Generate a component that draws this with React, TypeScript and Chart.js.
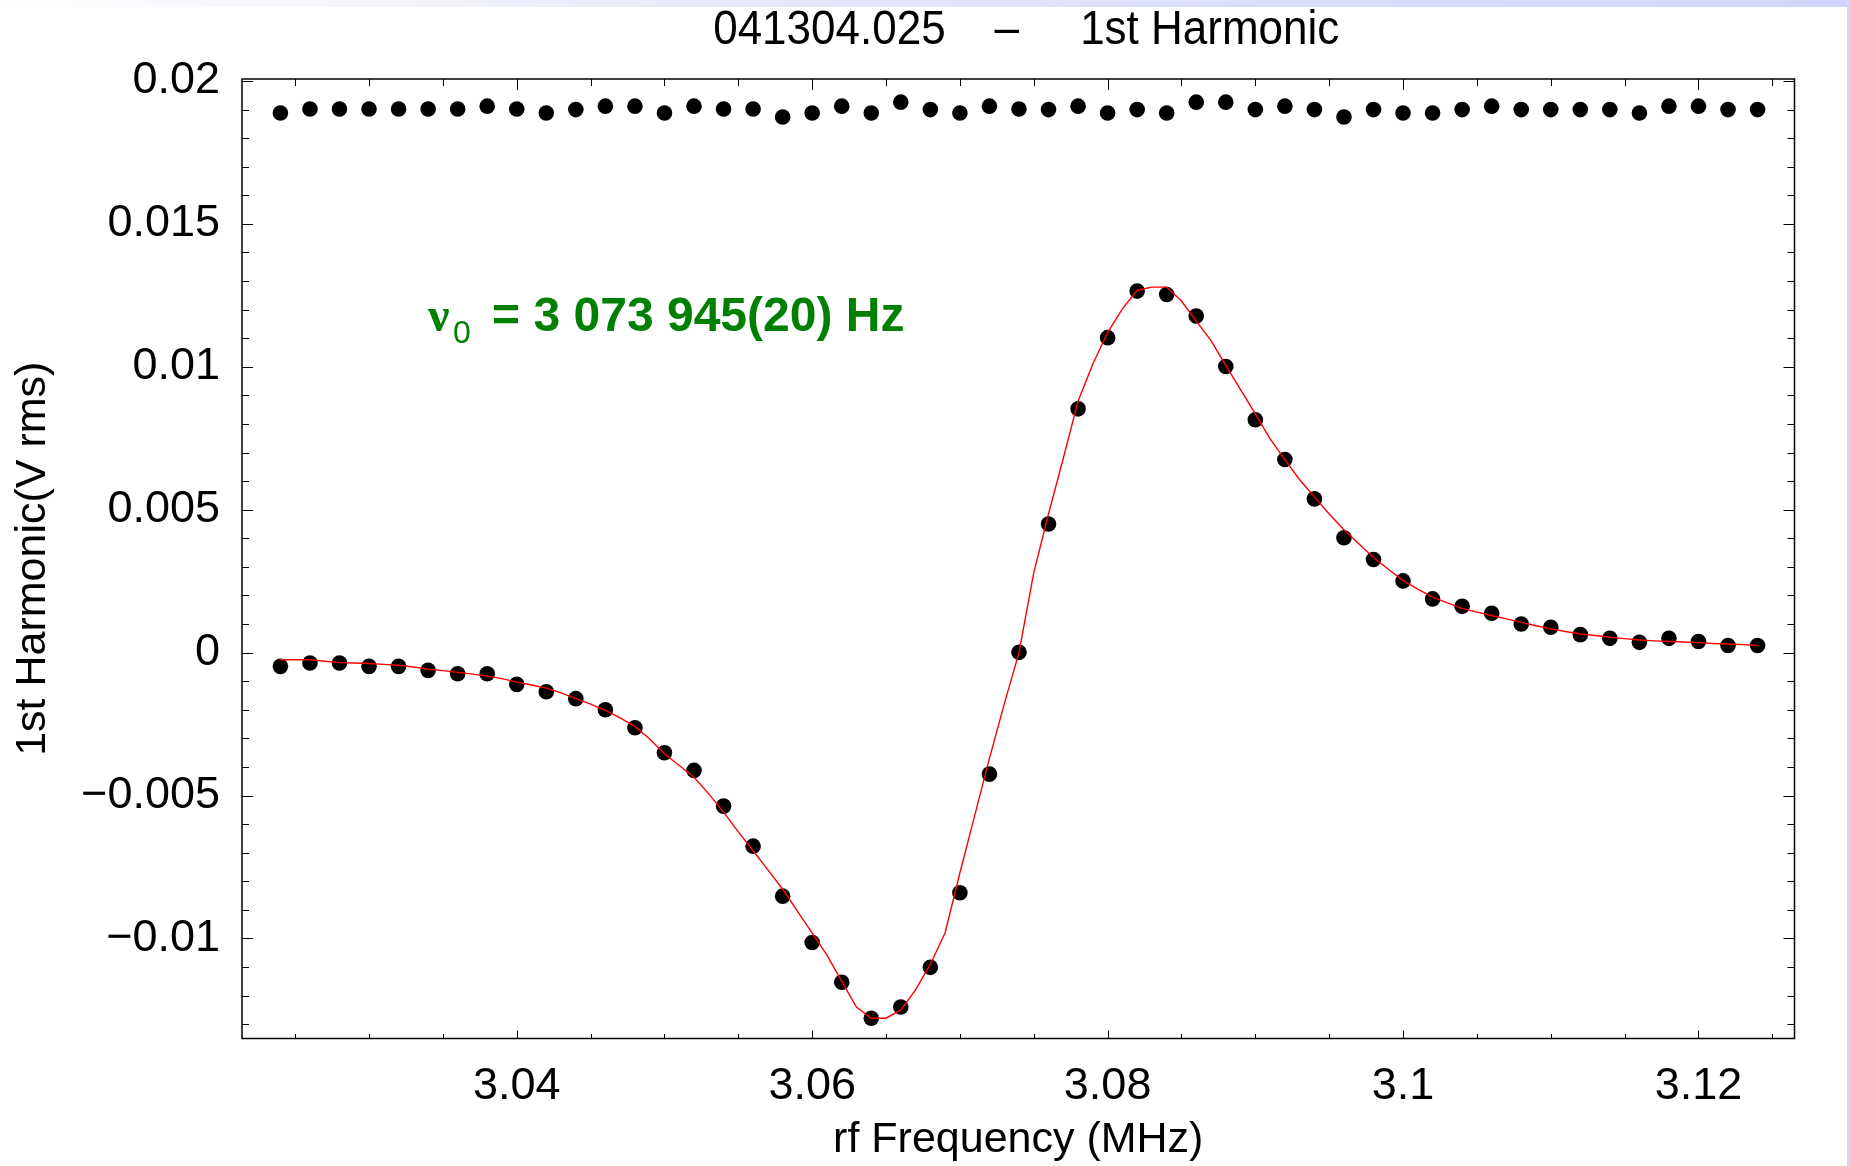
import React, { useEffect, useRef } from "react";
import { Chart, registerables } from "chart.js";

Chart.register(...registerables);

// ---- data ----
const freqValues = [
  3.024, 3.026, 3.028, 3.03, 3.032, 3.034, 3.036, 3.038, 3.04, 3.042,
  3.044, 3.046, 3.048, 3.05, 3.052, 3.054, 3.056, 3.058, 3.06, 3.062,
  3.064, 3.066, 3.068, 3.07, 3.072, 3.074, 3.076, 3.078, 3.08, 3.082,
  3.084, 3.086, 3.088, 3.09, 3.092, 3.094, 3.096, 3.098, 3.1, 3.102,
  3.104, 3.106, 3.108, 3.11, 3.112, 3.114, 3.116, 3.118, 3.12, 3.122, 3.124,
];

const harmonicValues = [
  -0.00048, -0.00036, -0.00036, -0.00048, -0.00048, -0.00062, -0.00074, -0.00074, -0.00111, -0.00137,
  -0.00161, -0.002, -0.00263, -0.0035, -0.00412, -0.00537, -0.00677, -0.00852, -0.01014, -0.01153,
  -0.01279, -0.0124, -0.01101, -0.0084, -0.00425, 0.00001, 0.0045, 0.00853, 0.01102, 0.01265,
  0.01253, 0.01178, 0.01001, 0.00815, 0.00676, 0.00538, 0.00402, 0.00326, 0.00251, 0.00188,
  0.00162, 0.00138, 0.001, 0.00089, 0.00063, 0.0005, 0.00036, 0.0005, 0.00039, 0.00025, 0.00025,
];

const referenceValues = [
  0.01888, 0.01902, 0.01902, 0.01902, 0.01902, 0.01902, 0.01902, 0.01912, 0.01902, 0.01888,
  0.019, 0.01912, 0.01912, 0.01888, 0.01912, 0.01902, 0.01902, 0.01874, 0.01888, 0.01912,
  0.01888, 0.01926, 0.019, 0.01888, 0.01912, 0.01902, 0.019, 0.01912, 0.01888, 0.019,
  0.01888, 0.01926, 0.01926, 0.019, 0.01912, 0.019, 0.01874, 0.019, 0.01888, 0.01888,
  0.019, 0.01912, 0.019, 0.019, 0.019, 0.019, 0.01888, 0.01912, 0.01912, 0.019, 0.019,
];

const fitFreq = [
  3.024, 3.025, 3.026, 3.027, 3.028, 3.029, 3.03, 3.031, 3.032, 3.033,
  3.034, 3.035, 3.036, 3.037, 3.038, 3.039, 3.04, 3.041, 3.042, 3.043,
  3.044, 3.045, 3.046, 3.047, 3.048, 3.049, 3.05, 3.051, 3.052, 3.053,
  3.054, 3.055, 3.056, 3.057, 3.058, 3.059, 3.06, 3.061, 3.062, 3.063,
  3.064, 3.065, 3.066, 3.067, 3.068, 3.069, 3.07, 3.071, 3.072, 3.073,
  3.074, 3.075, 3.076, 3.077, 3.078, 3.079, 3.08, 3.081, 3.082, 3.083,
  3.084, 3.085, 3.086, 3.087, 3.088, 3.089, 3.09, 3.091, 3.092, 3.093,
  3.094, 3.095, 3.096, 3.097, 3.098, 3.099, 3.1, 3.101, 3.102, 3.103,
  3.104, 3.105, 3.106, 3.107, 3.108, 3.109, 3.11, 3.111, 3.112, 3.113,
  3.114, 3.115, 3.116, 3.117, 3.118, 3.119, 3.12, 3.121, 3.122, 3.123, 3.124,
];

const fitValues = [
  -0.00025, -0.00025, -0.00025, -0.0003, -0.00035, -0.00036, -0.00038, -0.00041, -0.00044, -0.0005,
  -0.00058, -0.00063, -0.00069, -0.00075, -0.00082, -0.00091, -0.00103, -0.00113, -0.00124, -0.00141,
  -0.00161, -0.0018, -0.00202, -0.00228, -0.00258, -0.00302, -0.00354, -0.00395, -0.00436, -0.00494,
  -0.00558, -0.00627, -0.00693, -0.0076, -0.00827, -0.00904, -0.00981, -0.01058, -0.0115, -0.0124,
  -0.01279, -0.01279, -0.0125, -0.0118, -0.0109, -0.0098, -0.0077, -0.0057, -0.0037, -0.0018,
  0.0, 0.0028, 0.00486, 0.0068, 0.0088, 0.0101, 0.0112, 0.01203, 0.01268, 0.01279,
  0.01279, 0.0123, 0.0116, 0.01092, 0.01005, 0.0092, 0.00835, 0.00748, 0.00675, 0.00605,
  0.00545, 0.00485, 0.0043, 0.00381, 0.00333, 0.00292, 0.00252, 0.00222, 0.00194, 0.00174,
  0.00155, 0.00142, 0.0013, 0.00118, 0.00106, 0.00094, 0.00083, 0.00074, 0.00065, 0.0006,
  0.00054, 0.00049, 0.00044, 0.00041, 0.00039, 0.00037, 0.00035, 0.00032, 0.0003, 0.00028, 0.00025,
];

const xTickLabels = [3.04, 3.06, 3.08, 3.1, 3.12];
const yTickLabels = [-0.01, -0.005, 0, 0.005, 0.01, 0.015, 0.02];

const chartTitle = "041304.025    \u2013     1st Harmonic";
const xAxisTitle = "rf Frequency (MHz)";
const yAxisTitle = "1st Harmonic(V rms)";
const annoSymbol = "\u03BD";
const annoSub = "0";
const annoText = "= 3 073 945(20) Hz";
const annoAt = { x: 3.034, y: 0.01124 };

const FONT = '"Liberation Sans", Arial, sans-serif';

const sameVal = (a: number, b: number) => Math.abs(a - b) < 1e-9;

const framePlugin = {
  id: "mmaFrame",
  afterDatasetsDraw(chart: any) {
    const { ctx, chartArea: a, scales } = chart;
    const xs = scales.x;
    const ys = scales.y;
    ctx.save();
    ctx.strokeStyle = "#000";
    ctx.lineWidth = 1;
    // x ticks (minor every 0.005, major at labels)
    for (let i = 0; i <= 20; i++) {
      const v = 3.025 + i * 0.005;
      const major = xTickLabels.some((t) => sameVal(t, v));
      const px = Math.round(xs.getPixelForValue(v)) + 0.5;
      ctx.beginPath();
      ctx.moveTo(px, a.bottom);
      ctx.lineTo(px, a.bottom - (major ? 8 : 4.5));
      ctx.moveTo(px, a.top);
      ctx.lineTo(px, a.top + (major ? 11 : 7));
      ctx.stroke();
    }
    // y ticks (minor every 0.001, major at labels)
    for (let i = -13; i <= 20; i++) {
      const v = i * 0.001;
      const major = yTickLabels.some((t) => sameVal(t, v));
      const py = Math.round(ys.getPixelForValue(v)) + 0.5;
      ctx.beginPath();
      ctx.moveTo(a.left, py);
      ctx.lineTo(a.left + (major ? 11 : 7), py);
      ctx.moveTo(a.right, py);
      ctx.lineTo(a.right - (major ? 11 : 7), py);
      ctx.stroke();
    }
    ctx.lineWidth = 1.5;
    ctx.strokeRect(a.left, a.top, a.right - a.left, a.bottom - a.top);

    // chart title (slightly stretched vertically like the reference)
    ctx.save();
    ctx.fillStyle = "#000";
    ctx.font = `44px ${FONT}`;
    ctx.textAlign = "center";
    ctx.textBaseline = "middle";
    ctx.translate((a.left + a.right) / 2 + 8, 31);
    ctx.scale(1, 1.1);
    ctx.fillText(chartTitle, 0, 0);
    ctx.restore();

    // annotation
    const ax = xs.getPixelForValue(annoAt.x);
    const ay = ys.getPixelForValue(annoAt.y);
    ctx.fillStyle = "#008000";
    ctx.textAlign = "left";
    ctx.textBaseline = "alphabetic";
    ctx.font = `bold 48px "Liberation Serif", serif`;
    ctx.fillText(annoSymbol, ax, ay);
    ctx.font = `32px ${FONT}`;
    ctx.fillText(annoSub, ax + 25, ay + 12);
    ctx.font = `bold 48px ${FONT}`;
    ctx.fillText(annoText, ax + 64, ay);
    ctx.restore();
  },
};

export default function App() {
  const canvasRef = useRef<HTMLCanvasElement | null>(null);

  useEffect(() => {
    if (!canvasRef.current) return;
    Chart.defaults.font.family = FONT;
    const chart = new Chart(canvasRef.current, {
      type: "scatter",
      data: {
        datasets: [
          {
            label: "fit",
            data: fitFreq.map((x, i) => ({ x, y: fitValues[i] })),
            showLine: true,
            borderColor: "#ff0000",
            borderWidth: 1.4,
            pointRadius: 0,
            tension: 0,
            order: 0,
          },
          {
            label: "1st harmonic",
            data: freqValues.map((x, i) => ({ x, y: harmonicValues[i] })),
            pointRadius: 7.8,
            pointBackgroundColor: "#000",
            pointBorderWidth: 0,
            borderColor: "#000",
            order: 1,
          },
          {
            label: "reference",
            data: freqValues.map((x, i) => ({ x, y: referenceValues[i] })),
            pointRadius: 7.8,
            pointBackgroundColor: "#000",
            pointBorderWidth: 0,
            borderColor: "#000",
            order: 1,
          },
        ],
      },
      options: {
        animation: false,
        responsive: false,
        devicePixelRatio: 1,
        layout: { padding: { top: 79, right: 55.5, left: 0, bottom: 0 } },
        plugins: {
          legend: { display: false },
          tooltip: { enabled: false },
          title: { display: false },
        },
        scales: {
          x: {
            type: "linear",
            min: 3.0214,
            max: 3.1265,
            grid: { display: false, drawTicks: false },
            border: { display: false },
            afterBuildTicks: (scale: any) => {
              scale.ticks = xTickLabels.map((value) => ({ value }));
            },
            afterFit: (scale: any) => {
              scale.height = 127.5;
            },
            ticks: {
              autoSkip: false,
              maxRotation: 0,
              padding: 21,
              color: "#000",
              font: { size: 45, family: FONT },
              callback: (value: any) => String(Number(Number(value).toFixed(4))),
            },
            title: {
              display: true,
              text: xAxisTitle,
              color: "#000",
              font: { size: 43, family: FONT },
              padding: { top: 0, bottom: 0 },
            },
          },
          y: {
            type: "linear",
            min: -0.0135,
            max: 0.02007,
            grid: { display: false, drawTicks: false },
            border: { display: false },
            afterBuildTicks: (scale: any) => {
              scale.ticks = yTickLabels.map((value) => ({ value }));
            },
            afterFit: (scale: any) => {
              scale.width = 242;
            },
            ticks: {
              autoSkip: false,
              padding: 22,
              color: "#000",
              font: { size: 45, family: FONT },
              callback: (value: any) => {
                const v = Number(Number(value).toFixed(4));
                if (v === 0) return "0";
                return (v < 0 ? "\u2212" : "") + String(Math.abs(v));
              },
            },
            title: {
              display: true,
              text: yAxisTitle,
              color: "#000",
              font: { size: 43, family: FONT },
              padding: { top: 7, bottom: 0 },
            },
          },
        },
      },
      plugins: [framePlugin],
    } as any);
    return () => chart.destroy();
  }, []);

  return (
    <div style={{ position: "absolute", left: 0, top: 0, width: 1850, height: 1166, background: "#fff", overflow: "hidden" }}>
      <canvas ref={canvasRef} width={1850} height={1166} style={{ display: "block", width: 1850, height: 1166 }} />
      <div
        style={{
          position: "absolute",
          left: 0,
          top: 0,
          width: 1850,
          height: 7,
          background: "linear-gradient(to right, #ffffff 0%, #e4e6fb 45%, #d0d4fa 100%)",
        }}
      />
      <div style={{ position: "absolute", right: 0, top: 0, width: 3, height: 1166, background: "#d2d6fa" }} />
    </div>
  );
}
